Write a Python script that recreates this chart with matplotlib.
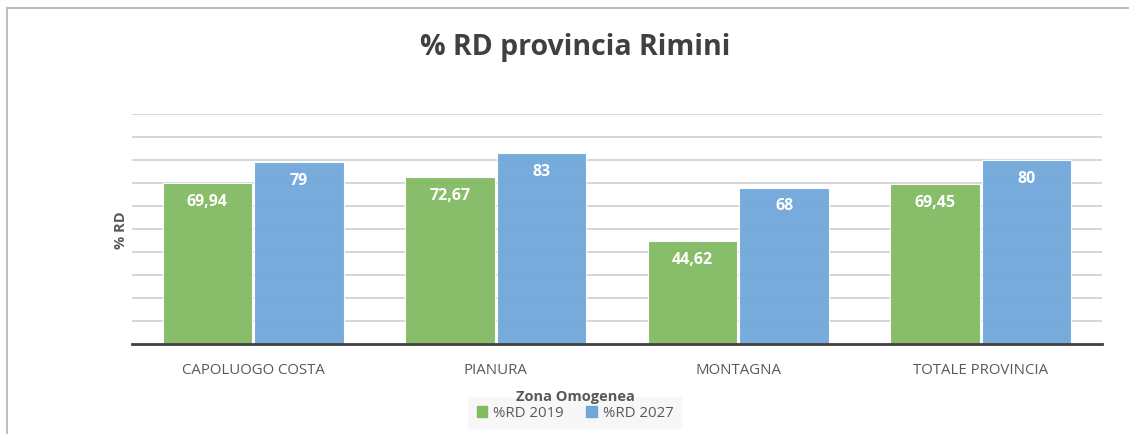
import matplotlib.pyplot as plt
import numpy as np
from matplotlib.patches import Rectangle
from matplotlib.lines import Line2D

categories = ['CAPOLUOGO COSTA', 'PIANURA', 'MONTAGNA', 'TOTALE PROVINCIA']
rd_2019 = [69.94, 72.67, 44.62, 69.45]
rd_2027 = [79, 83, 68, 80]
labels_2019 = ['69,94', '72,67', '44,62', '69,45']
labels_2027 = ['79', '83', '68', '80']
series_names = ['%RD 2019', '%RD 2027']

green = '#82BA62'
blue = '#6FA7DA'
text_gray = '#595959'
font = 'Open Sans'
plt.rcParams['font.family'] = [font, 'DejaVu Sans']

fig = plt.figure(figsize=(11.29, 4.35), dpi=100)
W, H = 1129, 435
ax = fig.add_axes([132 / W, 1 - 345 / H, 970 / W, 230 / H])

x = np.arange(len(categories))
bw = 0.37
b1 = ax.bar(x - bw / 2 - 0.004, rd_2019, bw, color=green, alpha=0.95, edgecolor='white', linewidth=0.8, zorder=3)
b2 = ax.bar(x + bw / 2 + 0.004, rd_2027, bw, color=blue, alpha=0.95, edgecolor='white', linewidth=0.8, zorder=3)

for bars, labs in ((b1, labels_2019), (b2, labels_2027)):
    for rect, lab in zip(bars, labs):
        ax.annotate(lab, (rect.get_x() + rect.get_width() / 2, rect.get_height()),
                    xytext=(0, -7), textcoords='offset points', ha='center', va='top',
                    color='white', fontsize=11.5, fontweight='bold', zorder=4)

ax.set_xlim(-0.5, len(categories) - 0.5)
ax.set_ylim(0, 100)
ax.set_yticks(np.arange(10, 101, 10))
ax.yaxis.grid(True, color='#d0d0d0', linewidth=1.2, zorder=0)
ax.set_axisbelow(True)
ax.tick_params(axis='y', length=0, labelleft=False)
ax.set_xticks(x)
ax.set_xticklabels(categories, fontsize=10.8, color=text_gray)
ax.tick_params(axis='x', length=0, pad=13)
for s in ['top', 'right', 'left']:
    ax.spines[s].set_visible(False)
ax.spines['bottom'].set_color('#404040')
ax.spines['bottom'].set_linewidth(2)
ax.spines['bottom'].set_zorder(5)

ax.set_ylabel('% RD', fontsize=10.5, fontweight='bold', color=text_gray, labelpad=3)

fig.text(575 / W, 1 - 47 / H, '% RD provincia Rimini', ha='center', va='center',
         fontsize=20.5, fontweight='bold', color='#404040')
fig.text(575 / W, 1 - 397 / H, 'Zona Omogenea', ha='center', va='center',
         fontsize=10.5, fontweight='bold', color=text_gray, zorder=3)

# legend box
fig.patches.append(Rectangle((468 / W, 1 - 430 / H), 214 / W, 32 / H, transform=fig.transFigure,
                             facecolor='#f7f7f7', edgecolor='none', zorder=1))
handles = [Rectangle((0, 0), 1, 1, color=green), Rectangle((0, 0), 1, 1, color=blue)]
fig.legend(handles, series_names, loc='center', bbox_to_anchor=(575 / W, 1 - 414 / H), ncol=2,
           frameon=False, fontsize=10.8, handlelength=0.7, handleheight=0.7, handletextpad=0.4,
           columnspacing=1.5, labelcolor=text_gray)

# outer frame (top and left edges)
fig.lines.append(Line2D([7 / W, 7 / W], [0, 1 - 9 / H], transform=fig.transFigure, color='#bfbfbf', linewidth=1.5))
fig.lines.append(Line2D([7 / W, 1], [1 - 9 / H, 1 - 9 / H], transform=fig.transFigure, color='#bfbfbf', linewidth=1.5))

fig.savefig('out.png', dpi=100)
